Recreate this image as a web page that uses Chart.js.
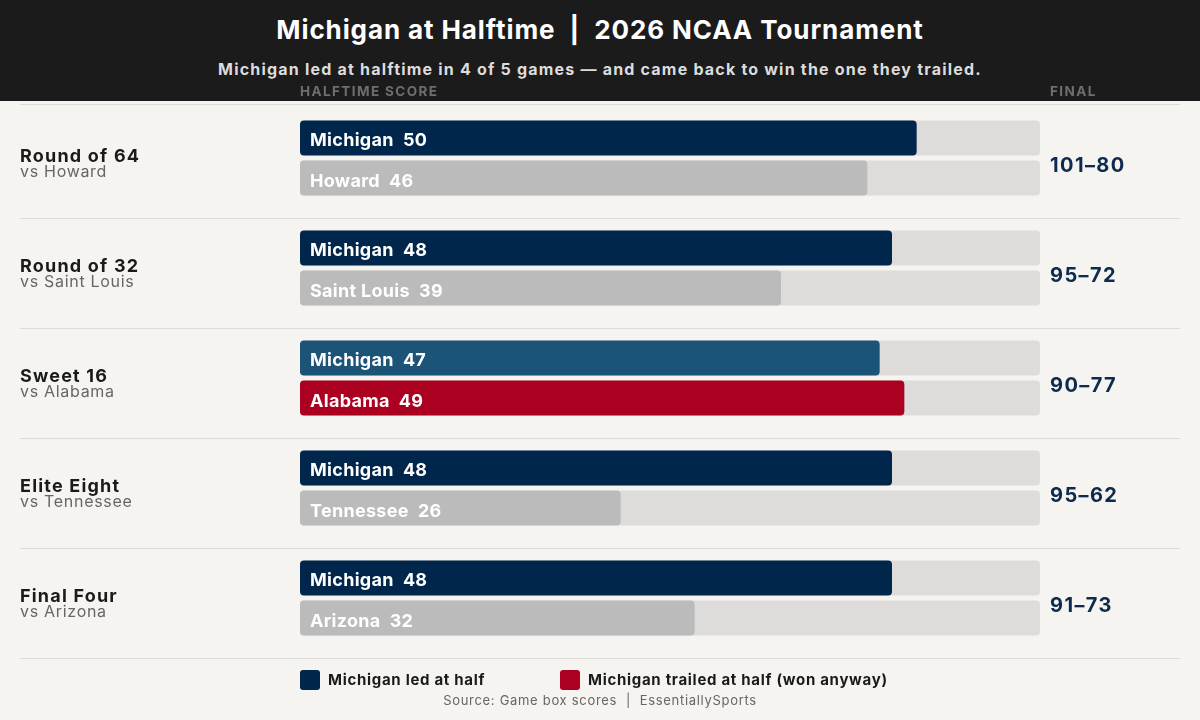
<!DOCTYPE html>
<html>
<head>
<meta charset="utf-8">
<script src="https://cdn.jsdelivr.net/npm/chart.js@4"></script>
<style>
  html, body { margin: 0; padding: 0; }
  body { width: 1200px; height: 720px; background: #f5f4f0; position: relative; overflow: hidden; font-family: Inter, "Noto Sans", sans-serif; }
  #header { position: absolute; left: 0; top: 0; width: 1200px; height: 101px; background: #1b1b1b; }
  #header h1 { position: absolute; top: 12px; width: 100%; margin: 0; text-align: center; color: #fff; font-size: 26px; font-weight: 700; line-height: 36px; letter-spacing: 0.9px; }
  #header p { position: absolute; top: 58px; width: 100%; margin: 0; text-align: center; color: #dcdcdc; font-size: 16px; font-weight: 700; line-height: 22px; letter-spacing: 1.2px; }
  #wrap { position: absolute; left: 0; top: 0; width: 1200px; height: 720px; }
</style>
</head>
<body>
<div id="header">
  <h1>Michigan at Halftime&nbsp; |&nbsp; 2026 NCAA Tournament</h1>
  <p>Michigan led at halftime in 4 of 5 games — and came back to win the one they trailed.</p>
</div>
<div id="wrap"><canvas id="chart" width="1200" height="720"></canvas></div>
<script>
const games = ['Round of 64', 'Round of 32', 'Sweet 16', 'Elite Eight', 'Final Four'];
const opponents = ['Howard', 'Saint Louis', 'Alabama', 'Tennessee', 'Arizona'];
const michHalf = [50, 48, 47, 48, 48];
const oppHalf = [46, 39, 49, 26, 32];
const finalScores = ['101–80', '95–72', '90–77', '95–62', '91–73'];
const HALF_MAX = 60;

const NAVY = '#00264c';
const NAVY_TRAIL = '#1c5478';
const RED = '#ab0020';
const GRAY = '#bbbbbb';
const TRACK = '#dddcda';
const FONT = 'Inter, "Noto Sans", sans-serif';

// track values: full axis length behind each bar
const track = games.map(() => HALF_MAX);

function text(ctx, str, x, y, font, color, spacing) {
  ctx.font = font;
  ctx.fillStyle = color;
  ctx.letterSpacing = (spacing || 0) + 'px';
  ctx.fillText(str, x, y);
}

const labelsPlugin = {
  id: 'labels',
  afterDatasetsDraw(chart) {
    const ctx = chart.ctx;
    const area = chart.chartArea;
    const yScale = chart.scales.y;
    ctx.save();

    // separators between games
    ctx.strokeStyle = '#dcdbd7';
    ctx.lineWidth = 1;
    for (let i = 0; i <= games.length; i++) {
      let y = i === 0 ? area.top : (i === games.length ? area.bottom :
        (yScale.getPixelForValue(i - 1) + yScale.getPixelForValue(i)) / 2);
      y = Math.round(y + (i === 0 ? 1 : 5)) + 0.5;
      ctx.beginPath();
      ctx.moveTo(20, y);
      ctx.lineTo(1180, y);
      ctx.stroke();
    }

    ctx.textBaseline = 'middle';
    ctx.textAlign = 'left';

    // column headers
    text(ctx, 'HALFTIME SCORE', area.left, 92, '700 13.5px ' + FONT, '#6e6e6e', 1.4);
    text(ctx, 'FINAL', area.right + 10, 92, '700 13.5px ' + FONT, '#6e6e6e', 1.4);

    // text inside bars
    const michMeta = chart.getDatasetMeta(0);
    const oppMeta = chart.getDatasetMeta(1);
    games.forEach((g, i) => {
      const m = michMeta.data[i];
      const o = oppMeta.data[i];
      text(ctx, 'Michigan  ' + michHalf[i], area.left + 10, m.y + 2.5, '700 18px ' + FONT, '#ffffff', 0.3);
      text(ctx, opponents[i] + '  ' + oppHalf[i], area.left + 10, o.y + 3.5, '700 18px ' + FONT, '#ffffff', 0.3);
    });

    // left labels and final scores
    games.forEach((g, i) => {
      const c = yScale.getPixelForValue(i);
      text(ctx, g, 20, c - 1.5, '700 18px ' + FONT, '#1a1a1a', 1.2);
      text(ctx, 'vs ' + opponents[i], 20, c + 14.5, '400 16px ' + FONT, '#666666', 0.7);
      text(ctx, finalScores[i], area.right + 10, c + 7.5, '700 20px ' + FONT, '#0d2b4e', 1.4);
    });

    // legend
    const legend = [[NAVY, 'Michigan led at half', 300], [RED, 'Michigan trailed at half (won anyway)', 560]];
    legend.forEach(([col, label, x]) => {
      ctx.fillStyle = col;
      ctx.beginPath();
      ctx.roundRect(x, 670, 20, 20, 3);
      ctx.fill();
      text(ctx, label, x + 28, 680, '700 15px ' + FONT, '#1a1a1a', 0.7);
    });

    ctx.textAlign = 'center';
    text(ctx, 'Source: Game box scores  |  EssentiallySports', 600, 701, '400 13px ' + FONT, '#666666', 0.7);
    ctx.restore();
  }
};

new Chart(document.getElementById('chart'), {
  type: 'bar',
  data: {
    labels: games,
    datasets: [
      {
        label: 'Michigan',
        data: michHalf,
        stack: 'mich',
        backgroundColor: ctx => michHalf[ctx.dataIndex] >= oppHalf[ctx.dataIndex] ? NAVY : NAVY_TRAIL
      },
      {
        label: 'Opponent',
        data: oppHalf,
        stack: 'opp',
        backgroundColor: ctx => oppHalf[ctx.dataIndex] > michHalf[ctx.dataIndex] ? RED : GRAY
      },
      { label: 'track1', data: track, stack: 'mich', backgroundColor: TRACK },
      { label: 'track2', data: track, stack: 'opp', backgroundColor: TRACK }
    ]
  },
  options: {
    indexAxis: 'y',
    responsive: false,
    animation: false,
    layout: { padding: { left: 300, right: 160, top: 103, bottom: 67 } },
    datasets: {
      bar: {
        categoryPercentage: 0.727,
        barPercentage: 0.875,
        borderRadius: 4,
        borderSkipped: false
      }
    },
    scales: {
      x: { display: false, min: 0, max: HALF_MAX, stacked: false },
      y: { display: false }
    },
    plugins: {
      legend: { display: false },
      tooltip: { enabled: false }
    }
  },
  plugins: [labelsPlugin]
});
</script>
</body>
</html>
